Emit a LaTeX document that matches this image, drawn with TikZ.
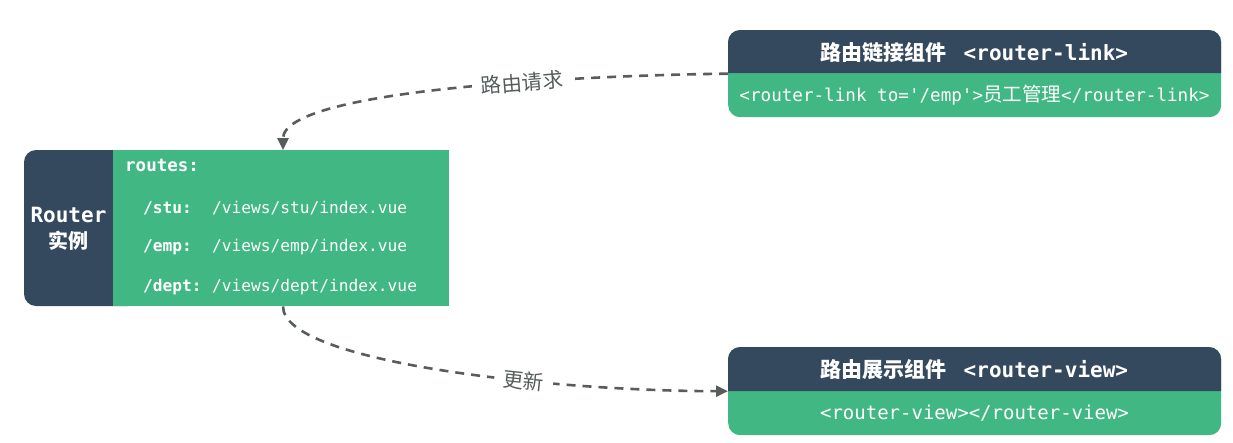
\documentclass[tikz,border=0pt]{standalone}
\usepackage{fontspec}
\setmonofont{DejaVu Sans Mono}
\newfontfamily\cjk{Noto Sans CJK SC}
\usetikzlibrary{arrows.meta,calc}
\definecolor{dk}{HTML}{34495E}
\definecolor{gr}{HTML}{41B883}
\definecolor{ln}{HTML}{575D5D}
\tikzset{
  wtxt/.style={text=white, inner sep=0pt},
  rtxt/.style={wtxt, anchor=base west, font=\ttfamily\fontsize{16.2}{18}\selectfont},
  flow/.style={draw=ln, line width=2.6pt, dash pattern=on 9pt off 7pt, -{Triangle[length=12pt,width=11pt]}},
  elabel/.style={fill=white, text=ln, inner xsep=9pt, inner ysep=3pt, font=\cjk\fontsize{20.5}{21}\selectfont}
}
\begin{document}
\begin{tikzpicture}[x=1pt,y=-1pt]
\useasboundingbox (0,0) rectangle (1233,442);
% Router box
\fill[dk, rounded corners=12pt] (24,150) rectangle (140,306);
\node[fill=gr, draw=none, inner sep=0pt, minimum width=336pt, minimum height=156pt, anchor=north west] (routes) at (113,150) {};
\node[wtxt, anchor=base, font=\ttfamily\bfseries\fontsize{21}{22}\selectfont] (rname) at (68.5,222) {Router};
\node[wtxt, anchor=base, font=\cjk\bfseries\fontsize{20}{22}\selectfont] (rcn) at (68.5,248) {实例};
\node[rtxt, font=\ttfamily\bfseries\fontsize{17.5}{18}\selectfont] (r0) at (125,171) {routes:};
\node[rtxt, font=\ttfamily\bfseries\fontsize{16.2}{18}\selectfont] (k1) at (143,213) {/stu:};
\node[rtxt] (v1) at (212,213) {/views/stu/index.vue};
\node[rtxt, font=\ttfamily\bfseries\fontsize{16.2}{18}\selectfont] (k2) at (143,251) {/emp:};
\node[rtxt] (v2) at (212,251) {/views/emp/index.vue};
\node[rtxt, font=\ttfamily\bfseries\fontsize{16.2}{18}\selectfont] (k3) at (143,291) {/dept:};
\node[rtxt] (v3) at (212,291) {/views/dept/index.vue};
% router-link box
\node[fill=gr, rounded corners=12pt, inner sep=0pt, minimum width=493pt, minimum height=87pt, anchor=north west] (link) at (728,30) {};
\fill[dk] (728,73) [rounded corners=12pt] -- (728,30) -- (1221,30) [sharp corners] -- (1221,73) -- cycle;
\node[wtxt, font=\fontsize{21}{22}\selectfont] (lhead) at (974.5,52) {{\cjk\bfseries 路由链接组件}\hspace{0.8em}{\ttfamily\bfseries <router-link>}};
\node[wtxt, font=\ttfamily\fontsize{17.6}{20}\selectfont] (lbody) at (974.5,95) {<router-link to='/emp'>{\cjk\fontsize{19.5}{20}\selectfont 员工管理}</router-link>};
% router-view box
\node[fill=gr, rounded corners=12pt, inner sep=0pt, minimum width=493pt, minimum height=88pt, anchor=north west] (view) at (728,347) {};
\fill[dk] (728,391) [rounded corners=12pt] -- (728,347) -- (1221,347) [sharp corners] -- (1221,391) -- cycle;
\node[wtxt, font=\fontsize{21}{22}\selectfont] (vhead) at (974.5,369.5) {{\cjk\bfseries 路由展示组件}\hspace{0.8em}{\ttfamily\bfseries <router-view>}};
\node[wtxt, font=\ttfamily\fontsize{19}{20}\selectfont] (vbody) at (974.5,413) {<router-view></router-view>};
% connectors
\draw[flow] (link.west) .. controls (600,75) and (283,88) .. ([xshift=170pt]routes.north west)
  node[elabel, sloped, pos=0.39] {路由请求};
\draw[flow] ([xshift=170pt]routes.south west) .. controls (283,362) and (550,391) .. (view.west)
  node[elabel, sloped, pos=0.65] {更新};
\end{tikzpicture}
\end{document}
